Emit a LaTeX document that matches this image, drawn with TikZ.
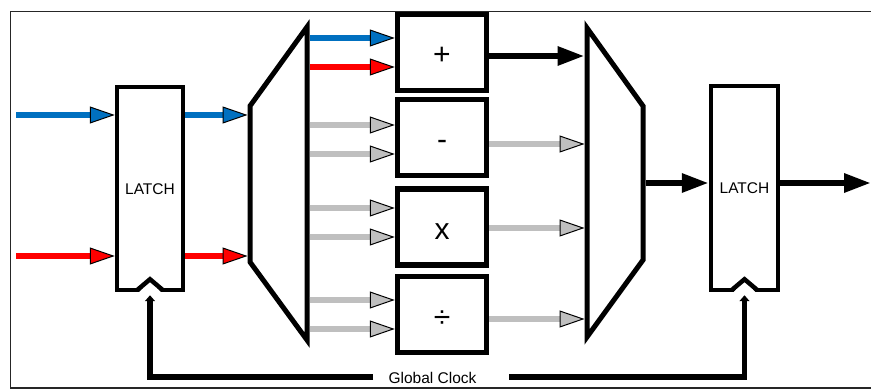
\documentclass[tikz,border=0pt]{standalone}
\usepackage{fontspec}
\setmainfont{Liberation Sans}
\usetikzlibrary{arrows.meta,calc}
\definecolor{cblue}{RGB}{0,112,192}
\definecolor{cred}{RGB}{255,0,0}
\definecolor{cgray}{RGB}{191,191,191}
\begin{document}
\begin{tikzpicture}[x=1pt,y=-1pt,
  latchbox/.style={draw,line width=4.5pt,minimum width=66pt,minimum height=203pt,inner sep=0pt,
    font=\fontsize{15.5}{16}\selectfont,text height=11.2pt,text depth=0pt},
  opbox/.style={draw,line width=5.5pt,minimum width=89pt,minimum height=76pt,inner sep=0pt,
    font=\fontsize{30}{32}\selectfont,text height=25pt,text depth=0pt},
  muxshape/.style={draw,line width=5pt,line join=miter},
  sig/.style={line width=5.5pt},
  colortip/.style={-{Triangle[length=25pt,width=17pt,line width=1pt,color=black,fill=#1]}},
  blacktip/.style={line width=6pt,-{Triangle[length=27pt,width=18pt]}},
  clk/.style={line width=5.5pt,-{Triangle[length=6pt,width=10pt]},shorten >=3pt},
  chev/.style={line width=4.5pt,line join=miter}
]
\useasboundingbox (0,0) rectangle (871,390);
% frame
\draw[line width=1.5pt,black!85] (880,11.5) -- (10.5,11.5) -- (10.5,388) -- (880,388);

% latches
\node[latchbox] (L1) at (150,188.5) {LATCH};
\node[latchbox,minimum width=67pt,minimum height=204pt] (L2) at (744.5,188) {LATCH};

% muxes
\draw[muxshape] (250,106) -- (307,27) -- (307,340) -- (250,262) -- cycle;
\draw[muxshape] (587,28) -- (643,106) -- (643,260) -- (587,337) -- cycle;
\coordinate (m1l) at (247.5,0);
\coordinate (m1r) at (309.5,0);
\coordinate (m2l) at (584.5,0);
\coordinate (m2r) at (645.5,0);

% operators
\node[opbox] (add) at (442,52.5) {+};
\node[opbox] (sub) at (442,137.5) {-};
\node[opbox] (mul) at (442,227) {x};
\node[opbox] (dvd) at (442,314.5) {÷};

% inputs
\coordinate (inB) at (16,115);
\coordinate (inR) at (16,256);
\draw[sig,cblue,colortip=cblue] (inB) -- (L1.west |- inB);
\draw[sig,cred,colortip=cred] (inR) -- (L1.west |- inR);
\draw[sig,cblue,colortip=cblue] (L1.east |- inB) -- (m1l |- inB);
\draw[sig,cred,colortip=cred] (L1.east |- inR) -- (m1l |- inR);

% mux1 to operators
\draw[sig,cblue,colortip=cblue] (m1r |- 0,38) -- (add.west |- 0,38);
\draw[sig,cred,colortip=cred] (m1r |- 0,67) -- (add.west |- 0,67);
\draw[sig,cgray,colortip=cgray] (m1r |- 0,125) -- (sub.west |- 0,125);
\draw[sig,cgray,colortip=cgray] (m1r |- 0,154) -- (sub.west |- 0,154);
\draw[sig,cgray,colortip=cgray] (m1r |- 0,208) -- (mul.west |- 0,208);
\draw[sig,cgray,colortip=cgray] (m1r |- 0,237) -- (mul.west |- 0,237);
\draw[sig,cgray,colortip=cgray] (m1r |- 0,300) -- (dvd.west |- 0,300);
\draw[sig,cgray,colortip=cgray] (m1r |- 0,329) -- (dvd.west |- 0,329);

% operators to mux2
\draw[blacktip] (add.east |- 0,56) -- (m2l |- 0,56);
\draw[sig,cgray,colortip=cgray] (sub.east |- 0,144) -- (m2l |- 0,144);
\draw[sig,cgray,colortip=cgray] (mul.east |- 0,228) -- (m2l |- 0,228);
\draw[sig,cgray,colortip=cgray] (dvd.east |- 0,319) -- (m2l |- 0,319);

% mux2 to latch2 and out
\coordinate (outE) at (871,183);
\draw[blacktip] (m2r |- outE) -- (L2.west |- outE);
\draw[blacktip] (L2.east |- outE) -- (outE);

% clock markers
\fill[white] ($(L1.south)+(-12,1)$) -- ($(L1.south)+(0,-12)$) -- ($(L1.south)+(12,1)$) -- cycle;
\draw[chev] ($(L1.south)+(-13,-2)$) -- ($(L1.south)+(0,-13)$) -- ($(L1.south)+(13,-2)$);
\fill[white] ($(L2.south)+(-12,1)$) -- ($(L2.south)+(0,-12)$) -- ($(L2.south)+(12,1)$) -- cycle;
\draw[chev] ($(L2.south)+(-13,-2)$) -- ($(L2.south)+(0,-13)$) -- ($(L2.south)+(13,-2)$);

% global clock
\node[font=\fontsize{15.5}{16}\selectfont,anchor=base,inner sep=0pt] (gc) at (432.5,384) {Global Clock};
\coordinate (ck1) at (373,377);
\coordinate (ck2) at (509,377);
\draw[clk] (ck1) -| (L1.south);
\draw[clk] (ck2) -| (L2.south);
\end{tikzpicture}
\end{document}
